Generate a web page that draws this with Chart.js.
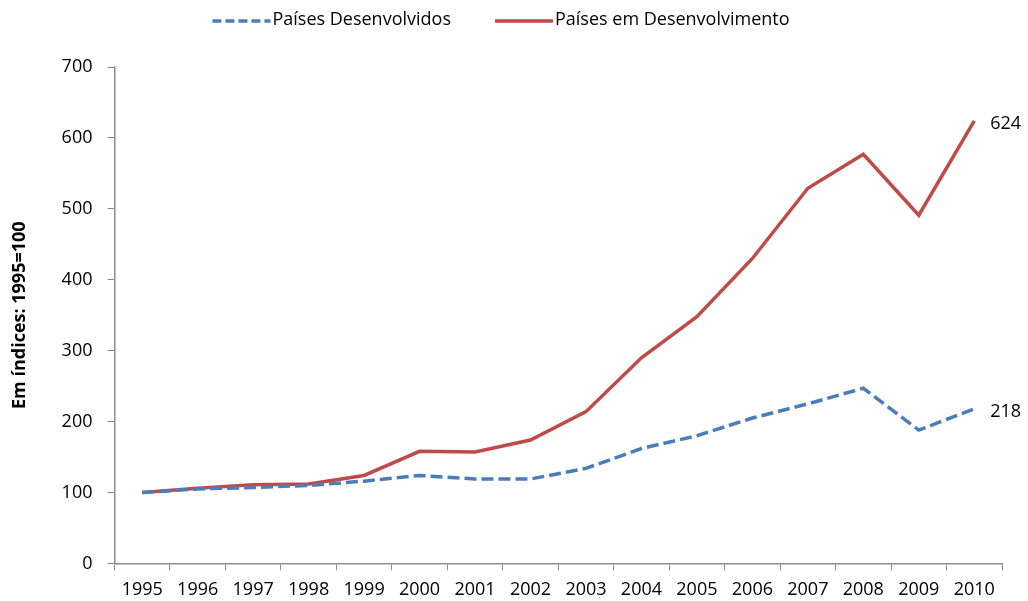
<!DOCTYPE html>
<html>
<head>
<meta charset="utf-8">
<script src="https://cdn.jsdelivr.net/npm/chart.js@4"></script>
<style>
  html, body { margin: 0; padding: 0; background: #fff; }
  #wrap { width: 1028px; height: 601px; }
</style>
</head>
<body>
<div id="wrap"><canvas id="chart"></canvas></div>
<script>
const years = ["1995", "1996", "1997", "1998", "1999", "2000", "2001", "2002",
  "2003", "2004", "2005", "2006", "2007", "2008", "2009", "2010"];
const desenvolvidos = [100, 105, 107, 110, 116, 124, 119, 119, 134, 162, 180, 205, 225, 247, 188, 218];
const emDesenvolvimento = [100, 106, 111, 112, 124, 158, 157, 174, 214, 290, 348, 430, 529, 577, 491, 624];
const seriesNames = ["Países Desenvolvidos", "Países em Desenvolvimento"];
const yTicks = [0, 100, 200, 300, 400, 500, 600, 700];

const FONT = "'Open Sans', 'Noto Sans', sans-serif";
const axisGray = "#8c8c8c";
const blue = "#4a7ebb";
const red = "#be4b48";

const LEGEND_H = 67;     // legend box height (chart area starts below)
const LEGEND_SHIFT = 33; // draw legend text higher inside its box

// make the legend taller and lift its text, then draw line samples by hand
const legendTweak = {
  id: "legendTweak",
  beforeInit(chart) {
    const lg = chart.legend;
    const fit = lg.fit;
    lg.fit = function () {
      fit.call(this);
      this.height = LEGEND_H;
    };
    const draw = lg.draw;
    lg.draw = function () {
      this.top -= LEGEND_SHIFT;
      this.bottom -= LEGEND_SHIFT;
      draw.call(this);
      this.top += LEGEND_SHIFT;
      this.bottom += LEGEND_SHIFT;
      const ctx = chart.ctx;
      const bw = this.options.labels.boxWidth;
      this.legendHitBoxes.forEach((hb, i) => {
        const ds = chart.data.datasets[i];
        const y = hb.top - LEGEND_SHIFT + hb.height / 2 + 1;
        ctx.save();
        ctx.strokeStyle = ds.borderColor;
        ctx.lineWidth = ds.borderWidth;
        ctx.setLineDash(ds.borderDash ? [9, 4] : []);
        ctx.beginPath();
        ctx.moveTo(hb.left, y);
        ctx.lineTo(hb.left + bw + 7, y);
        ctx.stroke();
        ctx.restore();
      });
    };
  }
};

// value label after the last point of each line
const lastLabels = {
  id: "lastLabels",
  afterDatasetsDraw(chart) {
    const ctx = chart.ctx;
    ctx.save();
    ctx.font = "18px " + FONT;
    ctx.fillStyle = "#000";
    ctx.textAlign = "left";
    ctx.textBaseline = "middle";
    chart.data.datasets.forEach((ds, i) => {
      const pts = chart.getDatasetMeta(i).data;
      const p = pts[pts.length - 1];
      ctx.fillText(String(ds.data[ds.data.length - 1]), p.x + 16, p.y + 3);
    });
    ctx.restore();
  }
};

new Chart(document.getElementById("chart"), {
  type: "line",
  data: {
    labels: years,
    datasets: [
      {
        label: seriesNames[0],
        data: desenvolvidos,
        borderColor: blue,
        backgroundColor: blue,
        borderWidth: 3.5,
        borderDash: [12, 5],
        pointRadius: 0,
        tension: 0,
      },
      {
        label: seriesNames[1],
        data: emDesenvolvimento,
        borderColor: red,
        backgroundColor: red,
        borderWidth: 3.5,
        pointRadius: 0,
        tension: 0,
      },
    ],
  },
  options: {
    responsive: true,
    maintainAspectRatio: false,
    animation: false,
    layout: { padding: { left: 0, right: 26, top: 0, bottom: -9 } },
    plugins: {
      tooltip: { enabled: false },
      legend: {
        position: "top",
        labels: {
          boxWidth: 51,
          boxHeight: 18,
          padding: 44,
          color: "#000",
          font: { family: FONT, size: 18 },
          generateLabels(chart) {
            const items = Chart.defaults.plugins.legend.labels.generateLabels(chart);
            items.forEach(it => {
              it.fillStyle = "rgba(0,0,0,0)";
              it.strokeStyle = "rgba(0,0,0,0)";
              it.lineWidth = 0;
            });
            return items;
          },
        },
      },
    },
    scales: {
      x: {
        offset: true,
        grid: {
          offset: true,
          drawOnChartArea: false,
          drawTicks: true,
          tickLength: 7,
          color: axisGray,
        },
        border: { color: axisGray, width: 1.5 },
        ticks: {
          color: "#000",
          font: { family: FONT, size: 18 },
          maxRotation: 0,
          autoSkip: false,
          padding: 9,
        },
      },
      y: {
        min: 0,
        max: 700,
        afterBuildTicks(scale) {
          scale.ticks = yTicks.map(v => ({ value: v }));
        },
        grid: {
          drawOnChartArea: false,
          drawTicks: true,
          tickLength: 7,
          color: axisGray,
        },
        border: { color: axisGray, width: 1.5 },
        ticks: {
          color: "#000",
          font: { family: FONT, size: 18 },
          padding: 15,
        },
        title: {
          display: true,
          text: "Em índices: 1995=100",
          color: "#000",
          font: { family: FONT, size: 18, weight: "bold" },
          padding: { top: 9, bottom: 16 },
        },
      },
    },
  },
  plugins: [legendTweak, lastLabels],
});
</script>
</body>
</html>
